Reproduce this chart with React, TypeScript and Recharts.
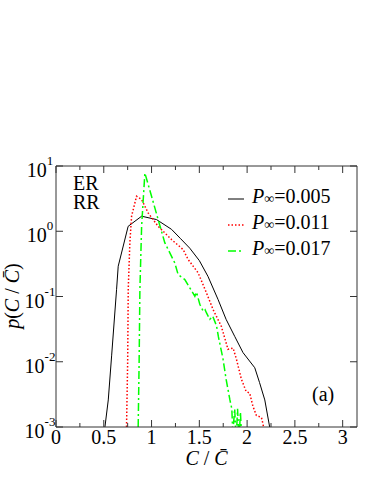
import React from 'react';
import { LineChart, Line, XAxis, YAxis, ReferenceLine } from 'recharts';

// P∞ = 0.005 (solid black)
const xs005 = [0.512, 0.547, 0.582, 0.634, 0.651, 0.755, 0.896, 1.052, 1.209, 1.3, 1.4, 1.5, 1.59, 1.696, 1.78, 1.87, 1.957, 2.08, 2.13, 2.185, 2.236];
const ys005 = [0.001, 0.0026, 0.0123, 0.129, 0.291, 1.19, 1.7, 1.51, 1.07, 0.78, 0.55, 0.355, 0.204, 0.09, 0.0447, 0.0245, 0.0138, 0.0081, 0.0048, 0.0026, 0.001];

// P∞ = 0.011 (red dotted)
const xs011 = [0.738, 0.75, 0.756, 0.773, 0.791, 0.843, 0.896, 0.964, 1.069, 1.209, 1.33, 1.383, 1.487, 1.574, 1.644, 1.73, 1.8, 1.853, 1.888, 1.94, 1.99, 2.027, 2.06, 2.097, 2.15, 2.167, 2.18];
const ys011 = [0.001, 0.01, 0.129, 0.664, 1.7, 3.44, 3.06, 1.91, 1.19, 0.746, 0.525, 0.369, 0.231, 0.114, 0.063, 0.035, 0.0155, 0.0162, 0.011, 0.0054, 0.0035, 0.0033, 0.0021, 0.0015, 0.0014, 0.0011, 0.0008];

// P∞ = 0.017 (green dash-dot)
const xs017 = [0.86, 0.87, 0.878, 0.896, 0.93, 1.0, 1.069, 1.139, 1.243, 1.278, 1.348, 1.4, 1.453, 1.47, 1.505, 1.54, 1.56, 1.575, 1.61, 1.64, 1.68, 1.7, 1.748, 1.78, 1.82, 1.84, 1.85, 1.87, 1.885, 1.9, 1.915, 1.93, 1.945];
const ys017 = [0.001, 0.01, 0.128, 1.19, 7.8, 3.44, 1.51, 0.664, 0.328, 0.217, 0.182, 0.136, 0.101, 0.117, 0.076, 0.0596, 0.063, 0.056, 0.0447, 0.05, 0.0355, 0.024, 0.011, 0.0054, 0.0026, 0.0019, 0.0008, 0.0019, 0.0006, 0.0019, 0.0006, 0.0017, 0.0006];

const xTicks = [0, 0.25, 0.5, 0.75, 1, 1.25, 1.5, 1.75, 2, 2.25, 2.5, 2.75, 3];
const yTicks = [0.001, 0.01, 0.1, 1, 10];
const yExponents = ['-3', '-2', '-1', '0', '1'];
const X_MAX = 3.15;

const legendLabels = ['0.005', '0.011', '0.017'];

const toPoints = (xs: number[], ys: number[]) => xs.map((x, i) => ({ x, y: ys[i] }));
const d005 = toPoints(xs005, ys005);
const d011 = toPoints(xs011, ys011);
const d017 = toPoints(xs017, ys017);

const FONT = '"Liberation Serif", "Times New Roman", serif';
const AXIS = '#333';

// chart box
const W = 374;
const H = 484;
const M = { top: 166, right: 17, bottom: 0, left: 0 };
const X_AXIS_H = 57;
const Y_AXIS_W = 56;
const PLOT_W = W - M.left - M.right - Y_AXIS_W;
const PLOT_H = H - M.top - M.bottom - X_AXIS_H;

const isMajor = (v: number) => Math.abs(v * 2 - Math.round(v * 2)) < 1e-6;

// bottom tick + matching inward tick on the top frame
function BottomTick({ x, y, payload }: any) {
  const major = isMajor(payload.value);
  const len = major ? 7 : 4;
  const top = y - PLOT_H;
  return (
    <g>
      <line x1={x} x2={x} y1={y} y2={y - len} stroke={AXIS} />
      <line x1={x} x2={x} y1={top} y2={top + len} stroke={AXIS} />
      {major && (
        <text x={x} y={y + 17} textAnchor="middle" fontFamily={FONT} fontSize={20} fill="#000">
          {String(payload.value)}
        </text>
      )}
    </g>
  );
}

// left tick + matching inward tick on the right frame
function LeftTick({ x, y, index }: any) {
  const right = x + PLOT_W;
  return (
    <g>
      <line x1={x} x2={x + 7} y1={y} y2={y} stroke={AXIS} />
      <line x1={right} x2={right - 7} y1={y} y2={y} stroke={AXIS} />
      <text x={x - 16} y={y + 11} textAnchor="middle" fontFamily={FONT} fontSize={20} fill="#000">
        10
        <tspan fontSize={13} dy={-12}>{yExponents[index]}</tspan>
      </text>
    </g>
  );
}

const series = [
  { color: '#000000', dash: undefined, width: 1 },
  { color: '#ff0000', dash: '1.5 2', width: 1.5 },
  { color: '#00ff00', dash: '8 3 2 3', width: 1.5 },
];

export default function App() {
  return (
    <div style={{ position: 'absolute', left: 0, top: 0, width: W, height: H, background: '#fff' }}>
      {/* annotations, legend and axis titles (under the chart layer) */}
      <svg width={W} height={H} style={{ position: 'absolute', left: 0, top: 0, pointerEvents: 'none' }} fontFamily={FONT}>
        <text x={73} y={190} fontSize={20}>ER</text>
        <text x={73} y={209} fontSize={20}>RR</text>
        <text x={312} y={401} fontSize={20}>(a)</text>
        {legendLabels.map((label, i) => {
          const base = 203 + i * 26;
          return (
            <g key={label}>
              <line x1={228} x2={244} y1={base - 4} y2={base - 4} stroke={series[i].color} strokeWidth={series[i].width} strokeDasharray={series[i].dash} />
              <text x={252} y={base} fontSize={20}>
                <tspan fontStyle="italic">P</tspan>
                <tspan fontSize={14}>∞</tspan>
                <tspan>={label}</tspan>
              </text>
            </g>
          );
        })}
        <text x={206.5} y={465} fontSize={20} textAnchor="middle">
          <tspan fontStyle="italic">C</tspan> / <tspan fontStyle="italic">{'C\u0304'}</tspan>
        </text>
        <text x={19} y={296} fontSize={20} textAnchor="middle" transform="rotate(-90 19 296)">
          <tspan fontStyle="italic">p</tspan>(<tspan fontStyle="italic">C</tspan> / <tspan fontStyle="italic">{'C\u0304'}</tspan>)
        </text>
      </svg>

      <LineChart width={W} height={H} margin={M}>
        <XAxis
          dataKey="x"
          type="number"
          domain={[0, X_MAX]}
          ticks={xTicks}
          interval={0}
          allowDataOverflow
          height={X_AXIS_H}
          stroke={AXIS}
          tickLine={false}
          tickSize={0}
          tickMargin={0}
          tick={<BottomTick />}
        />
        <YAxis
          scale="log"
          type="number"
          domain={[0.001, 10]}
          ticks={yTicks}
          interval={0}
          allowDataOverflow
          width={Y_AXIS_W}
          stroke={AXIS}
          tickLine={false}
          tickSize={0}
          tickMargin={0}
          tick={<LeftTick />}
        />
        {/* top and right frame */}
        <ReferenceLine y={10} stroke={AXIS} ifOverflow="visible" />
        <ReferenceLine x={X_MAX} stroke={AXIS} ifOverflow="visible" />
        <Line data={d005} dataKey="y" type="linear" stroke={series[0].color} strokeWidth={1} dot={false} isAnimationActive={false} />
        <Line data={d011} dataKey="y" type="linear" stroke={series[1].color} strokeWidth={1.5} strokeDasharray={series[1].dash} dot={false} isAnimationActive={false} />
        <Line data={d017} dataKey="y" type="linear" stroke={series[2].color} strokeWidth={1.5} strokeDasharray={series[2].dash} dot={false} isAnimationActive={false} />
      </LineChart>
    </div>
  );
}
